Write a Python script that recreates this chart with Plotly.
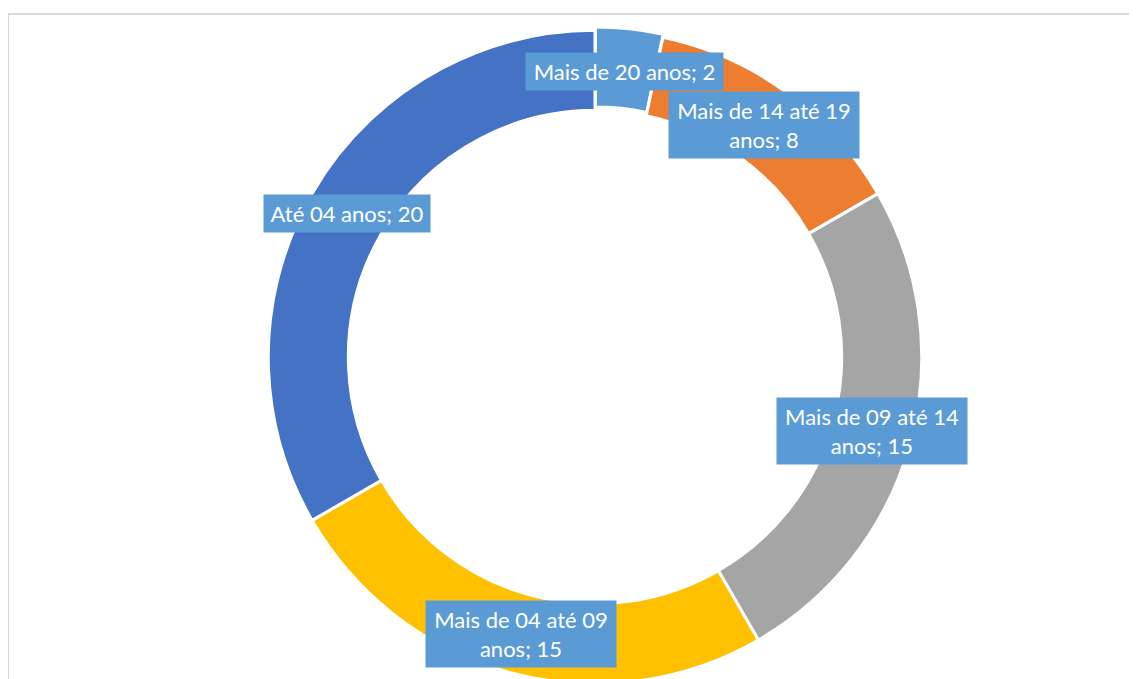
import math
import plotly.graph_objects as go

# ---- data ----
categories = ["Mais de 20 anos", "Mais de 14 até 19 anos", "Mais de 09 até 14 anos",
              "Mais de 04 até 09 anos", "Até 04 anos"]
values = [2, 8, 15, 15, 20]

# ---- style ----
colors = ["#5B9BD5", "#ED7D31", "#A5A5A5", "#FFC000", "#4472C4"]
pulls = [0.01, 0, 0, 0, 0]
label_box_widths = [187, 180, 180, 180, 156]
W, H = 1137, 679
mt, mb = 19, 0
hole = 0.755
cx_px = 587
plot_h = H - mt - mb
half = plot_h / 2
dom_x = [(cx_px - half) / W, (cx_px + half) / W]

fig = go.Figure(go.Pie(
    labels=categories, values=values, sort=False, direction="clockwise", rotation=0,
    hole=hole, pull=pulls,
    marker=dict(colors=colors, line=dict(color="white", width=3)),
    textinfo="none", hoverinfo="label+value", showlegend=False,
    domain=dict(x=dom_x, y=[0, 1]),
))

# label positions from the slice geometry
r_px = half / (1 + max(pulls))
rm = r_px * (1 + hole) / 2
total = sum(values)
cum = 0
annotations = []
for i, (cat, v) in enumerate(zip(categories, values)):
    mid = (cum + v / 2) / total * 2 * math.pi
    cum += v
    x_px = cx_px + rm * math.sin(mid)
    y_px = mt + half - rm * math.cos(mid)
    text = f"{cat}; {v}"
    if len(text) > 20:
        a, b = text.rsplit(" anos", 1)
        text = a + "<br>anos" + b
    annotations.append(dict(
        x=x_px / W, y=(H - mb - y_px) / plot_h, xref="paper", yref="paper",
        xanchor="center", yanchor="middle",
        text=text, showarrow=False, bgcolor="#5B9BD5", borderpad=5,
        width=label_box_widths[i],
        font=dict(family="Lato, 'Liberation Sans', Arial", size=22, color="white"),
    ))

fig.update_layout(
    width=W, height=H,
    margin=dict(l=0, r=0, t=mt, b=mb),
    paper_bgcolor="white", plot_bgcolor="white",
    annotations=annotations,
    shapes=[dict(type="rect", xref="paper", yref="paper",
                 x0=0, x1=1.01, y0=-0.05, y1=(H - mb - 6) / plot_h,
                 line=dict(color="#D9D9D9", width=2), fillcolor="rgba(0,0,0,0)", layer="below")],
)

fig.write_html("out.html")
